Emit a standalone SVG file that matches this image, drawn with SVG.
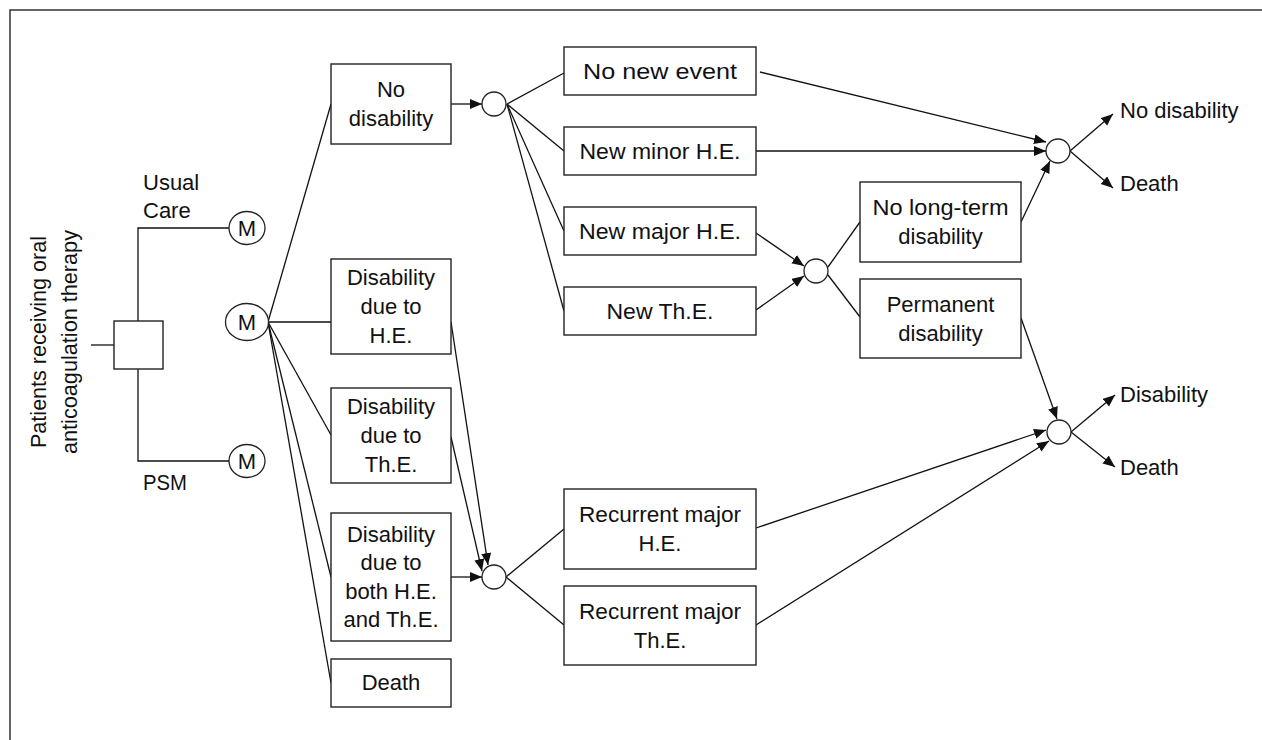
<svg xmlns="http://www.w3.org/2000/svg" width="1262" height="740" viewBox="0 0 1262 740">
<style>
  .box{fill:#fff;stroke:#222;stroke-width:1.4}
  .chance{fill:#fff;stroke:#222;stroke-width:1.3}
  .ln{fill:none;stroke:#111;stroke-width:1.3}
  .t{font-family:"Liberation Sans",Arial,sans-serif;font-size:22px;fill:#111;text-anchor:middle}
  .tl{font-family:"Liberation Sans",Arial,sans-serif;font-size:22px;fill:#111;text-anchor:start}
</style>
<defs>
  <marker id="ah" markerUnits="userSpaceOnUse" markerWidth="13" markerHeight="11" refX="12" refY="5" orient="auto">
    <path d="M0,0 L12,5 L0,10 z" fill="#111"/>
  </marker>
</defs>
<rect width="1262" height="740" fill="#fff"/>
<path d="M10,740 L10,10 L1262,10" fill="none" stroke="#333" stroke-width="1.5"/>

<g id="connectors">
  <path class="ln" d="M91,345 L114,345"/>
  <path class="ln" d="M138,321 L138,228 L229,228"/>
  <path class="ln" d="M138,369 L138,461 L229,461"/>
  <path class="ln" d="M268,322 L331,104"/>
  <path class="ln" d="M268,322 L331,322"/>
  <path class="ln" d="M268,322 L331,435"/>
  <path class="ln" d="M268,322 L331,577"/>
  <path class="ln" d="M268,322 L331,683"/>
  <path class="ln" d="M451,104 L482,104" marker-end="url(#ah)"/>
  <path class="ln" d="M507,104 L564,73"/>
  <path class="ln" d="M507,104 L564,151"/>
  <path class="ln" d="M507,104 L564,231"/>
  <path class="ln" d="M507,104 L564,311"/>
  <path class="ln" d="M451,322 L488,565" marker-end="url(#ah)"/>
  <path class="ln" d="M451,437 L482,571" marker-end="url(#ah)"/>
  <path class="ln" d="M451,577 L482,577" marker-end="url(#ah)"/>
  <path class="ln" d="M506,577 L564,529"/>
  <path class="ln" d="M506,577 L564,625"/>
  <path class="ln" d="M760,72 L1046,142" marker-end="url(#ah)"/>
  <path class="ln" d="M756,151 L1046,151" marker-end="url(#ah)"/>
  <path class="ln" d="M1021,222 L1050,161" marker-end="url(#ah)"/>
  <path class="ln" d="M1070,151 L1113,114" marker-end="url(#ah)"/>
  <path class="ln" d="M1070,151 L1113,188" marker-end="url(#ah)"/>
  <path class="ln" d="M756,233 L804,266" marker-end="url(#ah)"/>
  <path class="ln" d="M756,310 L804,276" marker-end="url(#ah)"/>
  <path class="ln" d="M828,267 L860,222"/>
  <path class="ln" d="M828,275 L860,317"/>
  <path class="ln" d="M1021,318 L1057,419" marker-end="url(#ah)"/>
  <path class="ln" d="M756,528 L1046,430" marker-end="url(#ah)"/>
  <path class="ln" d="M756,625 L1049,441" marker-end="url(#ah)"/>
  <path class="ln" d="M1071,432 L1115,395" marker-end="url(#ah)"/>
  <path class="ln" d="M1071,432 L1115,467" marker-end="url(#ah)"/>
</g>

<g id="root-label">
  <text class="t" transform="translate(46,342) rotate(-90)" textLength="212" lengthAdjust="spacingAndGlyphs">Patients receiving oral</text>
  <text class="t" transform="translate(77,342) rotate(-90)" textLength="224" lengthAdjust="spacingAndGlyphs">anticoagulation therapy</text>
</g>
<g id="decision"><rect class="box" x="114" y="321" width="49" height="48"/></g>
<g id="label-usual"><text class="tl" x="143" y="190">Usual</text><text class="tl" x="143" y="218">Care</text></g>
<g id="label-psm"><text class="tl" x="143" y="490" textLength="44" lengthAdjust="spacingAndGlyphs">PSM</text></g>
<g id="markov-usual"><ellipse class="chance" cx="247" cy="228" rx="18" ry="16.5"/><text class="t" x="247" y="236">M</text></g>
<g id="markov-center"><ellipse class="chance" cx="247" cy="322" rx="21.5" ry="18.5"/><text class="t" x="247" y="330">M</text></g>
<g id="markov-psm"><ellipse class="chance" cx="247" cy="461" rx="18" ry="16.5"/><text class="t" x="247" y="469">M</text></g>

<g id="state-no-disability"><rect class="box" x="331" y="64" width="120" height="80"/><text class="t" x="391" y="97">No</text><text class="t" x="391" y="126">disability</text></g>
<g id="state-dis-he"><rect class="box" x="331" y="259" width="120" height="95"/><text class="t" x="391" y="285">Disability</text><text class="t" x="391" y="314">due to</text><text class="t" x="391" y="343">H.E.</text></g>
<g id="state-dis-the"><rect class="box" x="331" y="388" width="120" height="95"/><text class="t" x="391" y="414">Disability</text><text class="t" x="391" y="443">due to</text><text class="t" x="391" y="472">Th.E.</text></g>
<g id="state-dis-both"><rect class="box" x="331" y="513" width="120" height="128"/><text class="t" x="391" y="542">Disability</text><text class="t" x="391" y="570">due to</text><text class="t" x="391" y="599">both H.E.</text><text class="t" x="391" y="627">and Th.E.</text></g>
<g id="state-death"><rect class="box" x="331" y="659" width="120" height="48"/><text class="t" x="391" y="690">Death</text></g>

<g id="chance-1"><circle class="chance" cx="494" cy="104" r="12"/></g>
<g id="chance-2"><circle class="chance" cx="494" cy="577" r="12"/></g>
<g id="chance-3"><circle class="chance" cx="816" cy="271" r="12"/></g>
<g id="chance-4"><circle class="chance" cx="1058" cy="151" r="12"/></g>
<g id="chance-5"><circle class="chance" cx="1059" cy="432" r="12"/></g>

<g id="ev-no-new"><rect class="box" x="564" y="47" width="192" height="48"/><text class="t" x="660" y="79" textLength="154" lengthAdjust="spacingAndGlyphs">No new event</text></g>
<g id="ev-minor"><rect class="box" x="564" y="127" width="192" height="48"/><text class="t" x="660" y="159" textLength="161" lengthAdjust="spacingAndGlyphs">New minor H.E.</text></g>
<g id="ev-major"><rect class="box" x="564" y="207" width="192" height="48"/><text class="t" x="660" y="239" textLength="162" lengthAdjust="spacingAndGlyphs">New major H.E.</text></g>
<g id="ev-the"><rect class="box" x="564" y="287" width="192" height="48"/><text class="t" x="660" y="319" textLength="107" lengthAdjust="spacingAndGlyphs">New Th.E.</text></g>
<g id="ev-rec-he"><rect class="box" x="564" y="489" width="192" height="80"/><text class="t" x="660" y="522" textLength="162" lengthAdjust="spacingAndGlyphs">Recurrent major</text><text class="t" x="660" y="551">H.E.</text></g>
<g id="ev-rec-the"><rect class="box" x="564" y="586" width="192" height="79"/><text class="t" x="660" y="619" textLength="162" lengthAdjust="spacingAndGlyphs">Recurrent major</text><text class="t" x="660" y="648">Th.E.</text></g>
<g id="ev-no-lt"><rect class="box" x="860" y="182" width="161" height="80"/><text class="t" x="940.5" y="215" textLength="136" lengthAdjust="spacingAndGlyphs">No long-term</text><text class="t" x="940.5" y="244">disability</text></g>
<g id="ev-perm"><rect class="box" x="860" y="279" width="161" height="79"/><text class="t" x="940.5" y="311.5">Permanent</text><text class="t" x="940.5" y="340.5">disability</text></g>

<g id="out-1"><text class="tl" x="1120" y="118">No disability</text><text class="tl" x="1120" y="191">Death</text></g>
<g id="out-2"><text class="tl" x="1120" y="402">Disability</text><text class="tl" x="1120" y="475">Death</text></g>
</svg>
